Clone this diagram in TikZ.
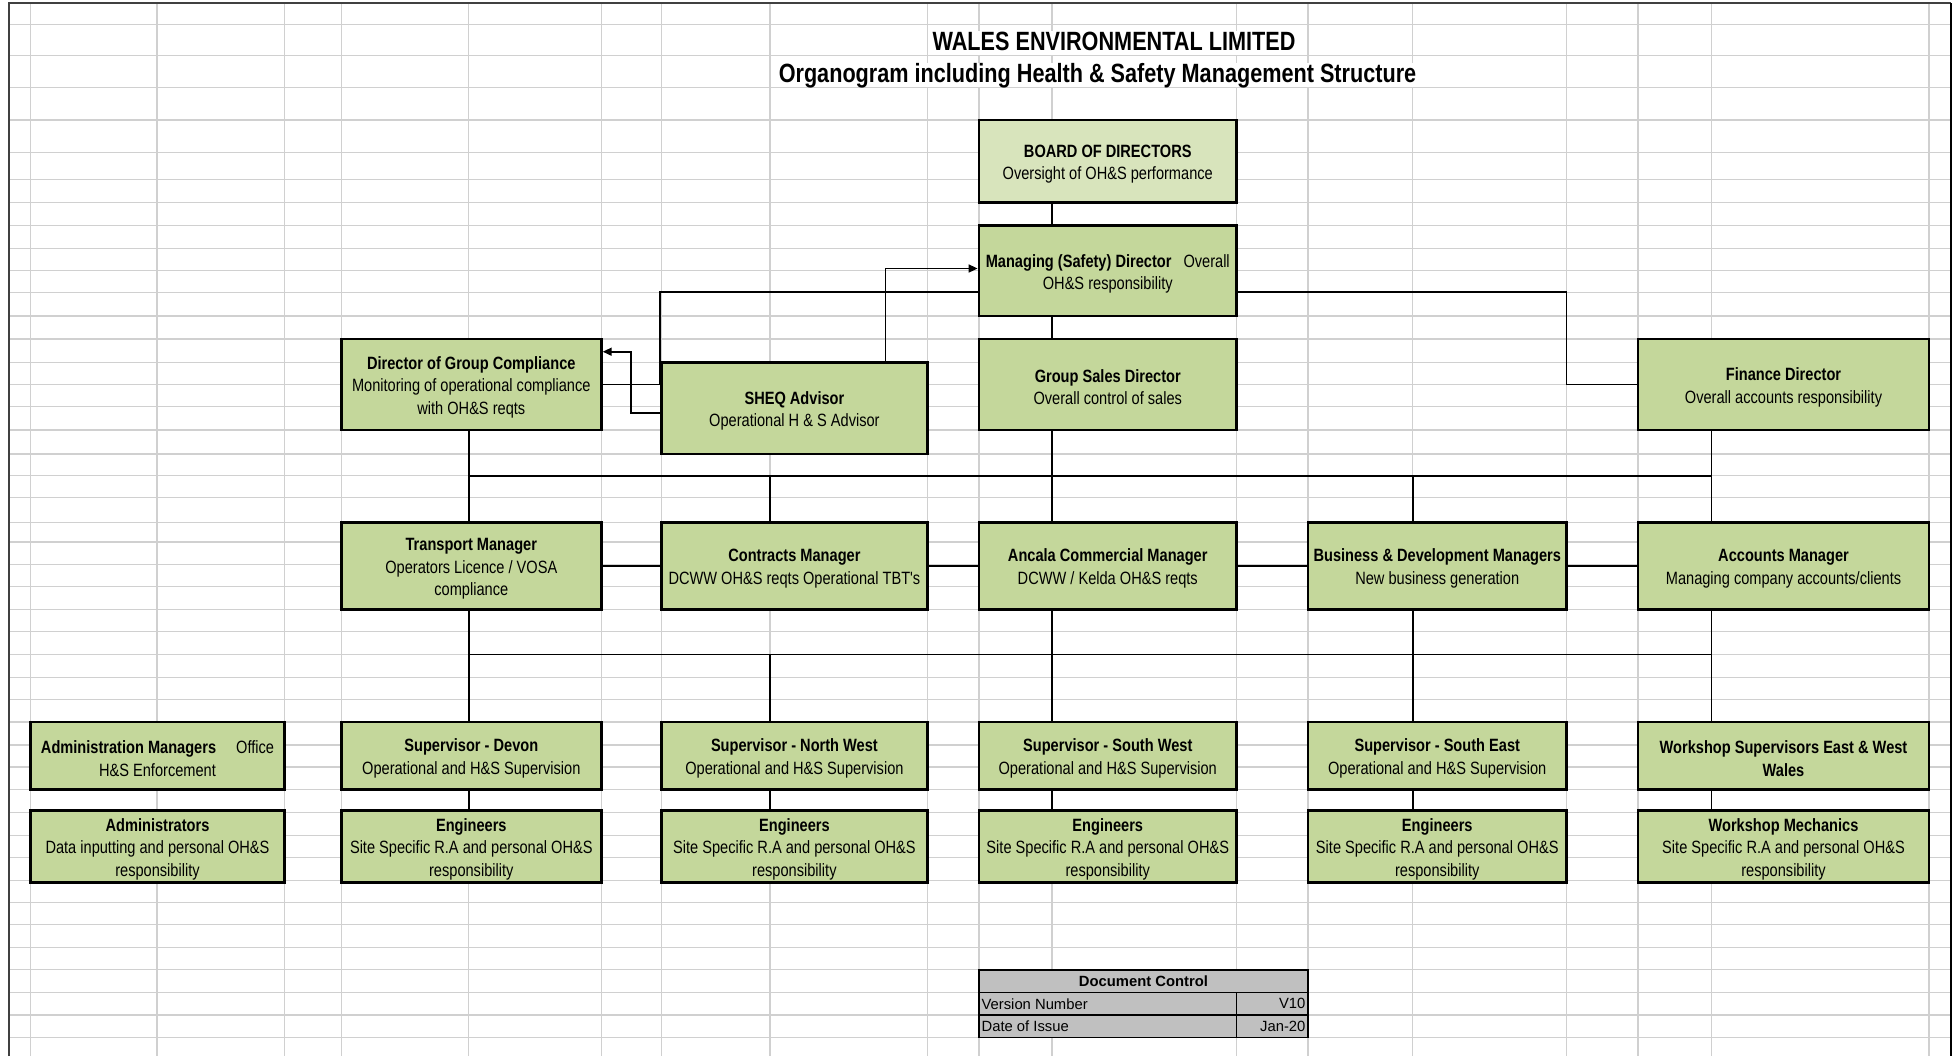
\documentclass[tikz,border=0pt]{standalone}
\usepackage{fontspec}
\setmainfont{Liberation Sans}
\newfontfamily\narrowsans[FakeStretch=0.82]{Liberation Sans}
\usetikzlibrary{arrows.meta}

\definecolor{boxgreen}{HTML}{C4D79B}
\definecolor{boardgreen}{HTML}{D8E4BC}
\definecolor{gridgray}{HTML}{D0D0D0}
\definecolor{docgray}{HTML}{C0C0C0}
% first line of a box sits a little lower, as in the sheet
\newcommand\hd[1]{\rule{0pt}{9.3pt}\textbf{#1}}

\begin{document}
\begin{tikzpicture}[
  x=0.5pt, y=-0.5pt,
  >={Triangle[length=4.5pt,width=4pt]},
  box/.style={draw,line width=1.4pt,fill=boxgreen,align=center,inner sep=1pt,
    font=\narrowsans\fontsize{8.9}{11.3}\selectfont},
  cellw/.style={minimum width=#1*0.5pt},
  cellh/.style={minimum height=#1*0.5pt},
  link/.style={line width=0.8pt},
  gridline/.style={gridgray,line width=0.6pt},
  doccell/.style={draw,line width=0.8pt,fill=docgray,inner sep=0pt},
  doctext/.style={inner sep=1.5pt,font=\fontsize{7.4}{9}\selectfont},
  titletext/.style={fill=white,anchor=base,inner xsep=2pt,inner ysep=0pt,
    text height=10pt,text depth=2pt,
    font=\narrowsans\bfseries\fontsize{13.2}{15}\selectfont},
]
\useasboundingbox (0,0) rectangle (1959,1056);
\fill[white] (0,0) rectangle (1959,1056);

% sheet grid
\foreach \x in {30.6,156.9,284.4,341.3,468.8,601.3,661.3,770,927.5,979,1052,1236.5,1308,1412.8,1566.5,1638,1711.5,1929}
  \draw[gridline] (\x,3) -- (\x,1056);
\foreach \y in {24.5,55.8,87.8,120,152.5,179.1,202.1,225.7,248.4,270.4,292.3,316,339,362.3,384.6,406.6,429.9,453.9,475.8,497.8,522.1,542,564.2,586.8,609.5,631.8,654.4,677.1,699.4,722,745,767,789.6,812.6,835.2,857.2,880.2,902.8,924.8,947.8,969.7,992.4,1015,1037.3}
  \draw[gridline] (8.75,\y) -- (1951,\y);
\draw[line width=1pt,black!75] (8.75,1056) -- (8.75,3) -- (1951,3);
\draw[line width=1.4pt] (1951,3) -- (1951,1056);

% title
\node[titletext] (title) at (1114,50.7) {WALES ENVIRONMENTAL LIMITED};
\node[titletext] (subtitle) at (1097.5,82.5) {Organogram including Health \& Safety Management Structure};

% directors
\node[box,fill=boardgreen,cellw=257.5,cellh=82.1] (board) at (1107.75,161.05)
  {\hd{BOARD OF DIRECTORS}\\Oversight of OH\&S performance};
\node[box,cellw=257.5,cellh=90.3] (md) at (1107.75,270.85)
  {\hd{Managing (Safety) Director}\hspace{6pt}Overall\\OH\&S responsibility};
\node[box,cellw=257.5,cellh=90.9] (gsd) at (1107.75,384.45)
  {\hd{Group Sales Director}\\Overall control of sales};
\node[box,cellw=260,cellh=90.9] (dgc) at (471.3,384.45)
  {\hd{Director of Group Compliance}\\Monitoring of operational compliance\\with OH\&S reqts};
\node[box,cellw=266.2,cellh=91.6] (sheq) at (794.4,408.1)
  {\hd{SHEQ Advisor}\\Operational H \& S Advisor};
\node[box,cellw=291,cellh=90.9] (fin) at (1783.5,384.45)
  {\hd{Finance Director}\\Overall accounts responsibility};

% managers
\node[box,cellw=260,cellh=87.4] (transport) at (471.3,565.8)
  {\hd{Transport Manager}\\Operators Licence / VOSA\\compliance};
\node[box,cellw=266.2,cellh=87.4] (contracts) at (794.4,565.8)
  {\hd{Contracts Manager}\\DCWW OH\&S reqts Operational TBT's};
\node[box,cellw=257.5,cellh=87.4] (ancala) at (1107.75,565.8)
  {\hd{Ancala Commercial Manager}\\DCWW / Kelda OH\&S reqts};
\node[box,cellw=258.5,cellh=87.4] (busdev) at (1437.25,565.8)
  {\hd{Business \& Development Managers}\\New business generation};
\node[box,cellw=291,cellh=87.4] (accounts) at (1783.5,565.8)
  {\hd{Accounts Manager}\\Managing company accounts/clients};

% supervisors and staff
\node[box,cellw=253.8,cellh=67.6] (admin) at (157.5,755.8)
  {\hd{Administration Managers}\hspace{10pt}Office\\H\&S Enforcement};
\node[box,cellw=253.8,cellh=67.6] (admins) at (157.5,846.4)
  {\hd{Administrators}\\Data inputting and personal OH\&S\\responsibility};
\foreach \n/\x/\w/\area in {devon/471.3/260/Devon,nw/794.4/266.2/North West,sw/1107.75/257.5/South West,se/1437.25/258.5/South East} {
  \node[box,cellw=\w,cellh=67.6] (sup-\n) at (\x,755.8)
    {\hd{Supervisor - \area}\\Operational and H\&S Supervision};
  \node[box,cellw=\w,cellh=67.6] (eng-\n) at (\x,846.4)
    {\hd{Engineers}\\Site Specific R.A and personal OH\&S\\responsibility};
}
\node[box,cellw=291,cellh=67.6] (wsup) at (1783.5,755.8)
  {\hd{Workshop Supervisors East \& West}\\\textbf{Wales}};
\node[box,cellw=291,cellh=67.6] (mech) at (1783.5,846.4)
  {\hd{Workshop Mechanics}\\Site Specific R.A and personal OH\&S\\responsibility};

% connector lines
\coordinate (xB) at (468.8,0);
\coordinate (xC) at (770,0);
\coordinate (xD) at (1052,0);
\coordinate (xE) at (1412.8,0);
\coordinate (xF) at (1711.5,0);
\coordinate (xG) at (1566.5,0);
\coordinate (xup) at (885.6,0);
\coordinate (xleft) at (631.2,0);
\coordinate (mdlink) at (0,291.7);
\coordinate (mdin) at (0,268.5);
\coordinate (sheqout) at (0,412.7);
\coordinate (dgcin) at (0,351.7);
\coordinate (busA) at (0,475.8);
\coordinate (busB) at (0,654.4);

\draw[link] (board.south -| xD) -- (md.north -| xD);
\draw[link] (md.south -| xD) -- (gsd.north -| xD);
\draw[link] (md.west |- mdlink) -| (sheq.north west) |- (dgc.east);
\draw[link] (md.east |- mdlink) -| (xG |- fin.west) -- (fin.west);
\draw[link,->] (sheq.north -| xup) |- (md.west |- mdin);
\draw[link,->] (sheq.west |- sheqout) -| (xleft |- dgcin) -- (dgc.east |- dgcin);

\draw[link] (xB |- busA) -- (xF |- busA);
\draw[link] (dgc.south -| xB) -- (transport.north -| xB);
\draw[link] (gsd.south -| xD) -- (ancala.north -| xD);
\draw[link] (fin.south -| xF) -- (accounts.north -| xF);
\draw[link] (xC |- busA) -- (contracts.north -| xC);
\draw[link] (xE |- busA) -- (busdev.north -| xE);
\draw[link] (transport) -- (contracts) -- (ancala) -- (busdev) -- (accounts);

\draw[link] (xB |- busB) -- (xF |- busB);
\foreach \a/\b/\x in {transport/sup-devon/xB,ancala/sup-sw/xD,busdev/sup-se/xE,accounts/wsup/xF}
  \draw[link] (\a.south -| \x) -- (\b.north -| \x);
\draw[link] (xC |- busB) -- (sup-nw.north -| xC);
\foreach \a/\b/\x in {sup-devon/eng-devon/xB,sup-nw/eng-nw/xC,sup-sw/eng-sw/xD,sup-se/eng-se/xE,wsup/mech/xF}
  \draw[link] (\a.south -| \x) -- (\b.north -| \x);

% document control
\node[doccell,cellw=329,cellh=22.7] (dc-head) at (1143.5,981.05) {};
\node[doccell,cellw=257.5,cellh=22.6] (dc-ver) at (1107.75,1003.7) {};
\node[doccell,cellw=71.5,cellh=22.6] (dc-vernum) at (1272.25,1003.7) {};
\node[doccell,cellw=257.5,cellh=22.3] (dc-date) at (1107.75,1026.15) {};
\node[doccell,cellw=71.5,cellh=22.3] (dc-datenum) at (1272.25,1026.15) {};
\node[doctext,font=\bfseries\fontsize{7.4}{9}\selectfont] at (dc-head) {Document Control};
\node[doctext,anchor=west] at (dc-ver.west) {Version Number};
\node[doctext,anchor=east] at (dc-vernum.east) {V10};
\node[doctext,anchor=west] at (dc-date.west) {Date of Issue};
\node[doctext,anchor=east] at (dc-datenum.east) {Jan-20};
\end{tikzpicture}
\end{document}
